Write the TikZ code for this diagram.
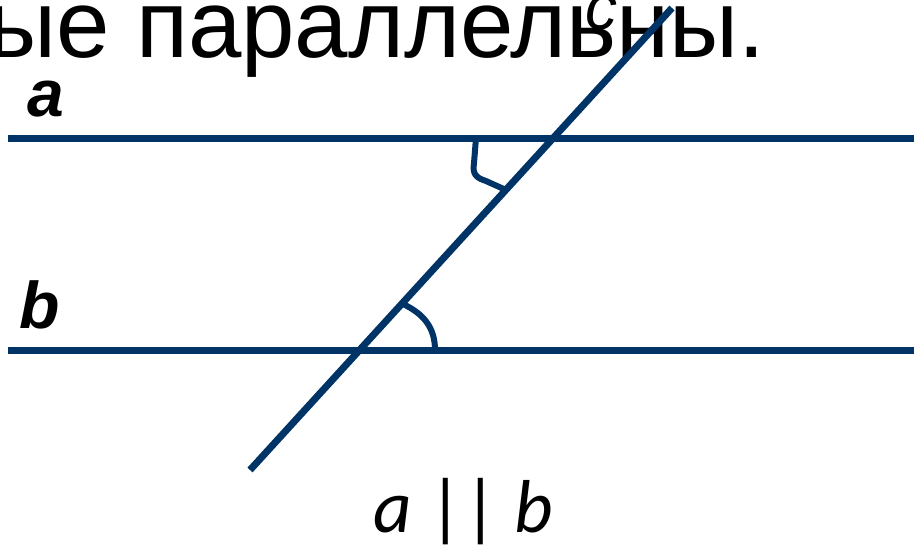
\documentclass[tikz,border=0pt]{standalone}
\usepackage{fontspec}
\setmainfont{Liberation Sans}
\newfontfamily\calib{Carlito}
\definecolor{lineblue}{RGB}{0,51,102}
\begin{document}
\begin{tikzpicture}[x=1pt,y=-1pt,
  geoline/.style={draw=lineblue,line width=7pt},
  anglemark/.style={draw=lineblue,line width=6pt,line join=round},
  lbl/.style={anchor=base west,inner sep=0pt,text=black}]
\useasboundingbox (0,0) rectangle (914,547);
\clip (0,0) rectangle (914,547);
% title fragment
\node[lbl,font=\fontsize{96}{96}\selectfont] (title) at (-13,57) {ые параллельны.};
% labels
\node[lbl,font=\fontsize{66}{66}\selectfont\bfseries\itshape] (la) at (27,116) {a};
\node[lbl,font=\fontsize{66}{66}\selectfont\bfseries\itshape] (lb) at (19,328) {b};
\node[lbl,font=\fontsize{64}{64}\selectfont\itshape] (lc) at (585,29) {c};
\node[lbl,font=\calib\fontsize{75}{75}\selectfont] (par) at (373,532) {\textit{a} || \textit{b}};
% lines
\coordinate (a1) at (8,138);
\coordinate (a2) at (914,138);
\coordinate (b1) at (8,350);
\coordinate (b2) at (914,350);
\coordinate (c1) at (250,470);
\coordinate (c2) at (672,8);
\draw[geoline] (a1) -- (a2);
\draw[geoline] (b1) -- (b2);
\draw[geoline] (c1) -- (c2);
% angle marks
\coordinate (u1) at (476,138);
\coordinate (u2) at (506,190);
\draw[anglemark] (u1) -- (474,163) .. controls (472,175) and (477,178) .. (486,181) -- (u2);
\coordinate (l1) at (403,304);
\coordinate (l2) at (435,350);
\draw[anglemark] (l1) .. controls (424,314) and (435,328) .. (l2);
\end{tikzpicture}
\end{document}
